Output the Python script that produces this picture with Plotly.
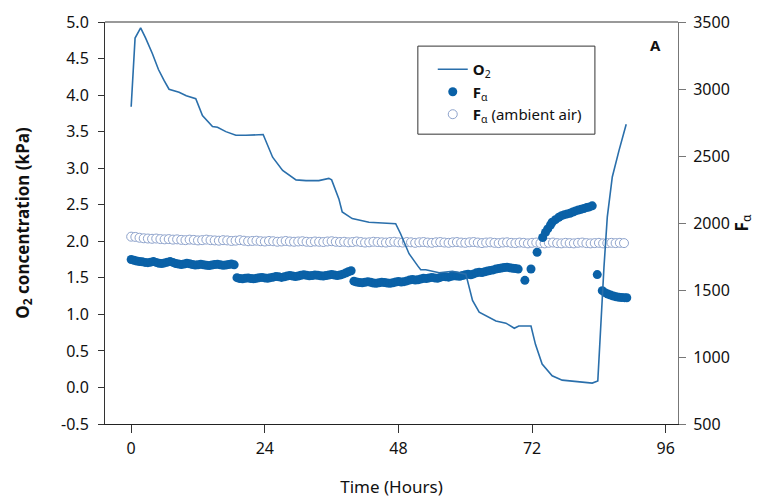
import plotly.graph_objects as go

# ---------------- data ----------------
o2_time = [0.0, 0.7, 1.7, 2.6, 3.8, 4.9, 5.9, 6.8, 8.6, 9.9,
           11.6, 12.8, 14.6, 15.5, 17.0, 18.8, 20.6, 22.4, 23.7, 25.4,
           27.2, 29.6, 31.4, 33.7, 35.5, 36.0, 37.3, 37.9, 39.7, 42.7,
           46.6, 47.5, 48.4, 49.9, 51.4, 52.0, 52.9, 55.3, 57.7, 60.1,
           61.3, 62.5, 65.5, 67.3, 68.8, 69.6, 71.8, 72.6, 73.8, 75.6,
           77.4, 80.4, 82.8, 83.8, 84.3, 84.9, 85.5, 86.1, 86.4, 87.6,
           88.9]
o2_kpa = [3.84, 4.78, 4.92, 4.78, 4.57, 4.35, 4.20, 4.08, 4.04, 3.99,
          3.95, 3.72, 3.57, 3.56, 3.50, 3.45, 3.45, 3.45, 3.46, 3.15,
          2.97, 2.84, 2.83, 2.83, 2.86, 2.84, 2.58, 2.40, 2.31, 2.26,
          2.25, 2.24, 2.10, 1.83, 1.67, 1.61, 1.61, 1.57, 1.59, 1.55,
          1.19, 1.03, 0.91, 0.88, 0.81, 0.84, 0.84, 0.59, 0.32, 0.16,
          0.10, 0.08, 0.06, 0.09, 0.87, 1.64, 2.33, 2.75, 2.88, 3.24,
          3.60]

fa_time = [0.0, 0.5, 1.0, 1.5, 2.0, 2.5, 3.0, 3.5, 4.0, 4.5,
           5.0, 5.5, 6.0, 6.5, 7.0, 7.5, 8.0, 8.5, 9.0, 9.5,
           10.0, 10.5, 11.0, 11.5, 12.0, 12.5, 13.0, 13.5, 14.0, 14.5,
           15.0, 15.5, 16.0, 16.5, 17.0, 17.5, 18.0, 18.5,
           19.0, 19.5, 20.0, 20.5, 21.0, 21.5, 22.0, 22.5, 23.0, 23.5,
           24.0, 24.5, 25.0, 25.5, 26.0, 26.5, 27.0, 27.5, 28.0, 28.5,
           29.0, 29.5, 30.0, 30.5, 31.0, 31.5, 32.0, 32.5, 33.0, 33.5,
           34.0, 34.5, 35.0, 35.5, 36.0, 36.5, 37.0, 37.5, 38.0, 38.5,
           39.0, 39.5,
           40.0, 40.5, 41.0, 41.5, 42.0, 42.5, 43.0, 43.5, 44.0, 44.5,
           45.0, 45.5, 46.0, 46.5, 47.0, 47.5, 48.0, 48.5, 49.0, 49.5,
           50.0, 50.5, 51.0, 51.5, 52.0, 52.5, 53.0, 53.5, 54.0, 54.5,
           55.0, 55.5, 56.0, 56.5, 57.0, 57.5, 58.0, 58.5, 59.0, 59.5,
           60.0, 60.5, 61.0, 61.5, 62.0, 62.5, 63.0, 63.5, 64.0, 64.5,
           65.0, 65.5, 66.0, 66.5, 67.0, 67.5, 68.0, 68.5, 69.0, 69.5,
           70.7, 71.8, 72.9, 73.9, 74.4, 74.8, 75.3, 75.6, 76.2, 76.8,
           77.3, 77.8, 78.3, 78.8, 79.3, 79.8, 80.3, 80.8, 81.3, 81.8,
           82.3, 82.8, 83.7, 84.6, 85.1, 85.6, 86.1, 86.6, 87.1, 87.6,
           88.1, 88.6, 89.0]
fa_value = [1728, 1722, 1716, 1712, 1710, 1706, 1704, 1708, 1712, 1706,
            1700, 1698, 1702, 1708, 1712, 1706, 1698, 1694, 1690, 1694,
            1700, 1696, 1690, 1686, 1688, 1692, 1688, 1684, 1682, 1686,
            1690, 1692, 1688, 1684, 1686, 1690, 1694, 1688,
            1592, 1586, 1584, 1588, 1590, 1586, 1584, 1588, 1592, 1594,
            1590, 1588, 1592, 1596, 1600, 1598, 1594, 1598, 1604, 1608,
            1604, 1600, 1604, 1610, 1614, 1610, 1606, 1608, 1612, 1610,
            1606, 1604, 1608, 1612, 1616, 1612, 1608, 1612, 1618, 1626,
            1636, 1644,
            1566, 1560, 1556, 1554, 1558, 1562, 1558, 1552, 1550, 1554,
            1558, 1556, 1552, 1550, 1554, 1560, 1564, 1560, 1562, 1568,
            1574, 1578, 1574, 1576, 1582, 1588, 1586, 1590, 1594, 1590,
            1588, 1594, 1600, 1598, 1596, 1602, 1606, 1604, 1602, 1608,
            1614, 1618, 1614, 1620, 1628, 1632, 1630, 1636, 1642, 1646,
            1650, 1656, 1660, 1664, 1668, 1670, 1666, 1662, 1660, 1656,
            1572, 1657, 1782, 1892, 1930, 1956, 1985, 2006, 2025, 2043,
            2055, 2062, 2068, 2072, 2082, 2090, 2097, 2102, 2108, 2115,
            2120, 2128, 1615, 1495, 1480, 1470, 1462, 1455, 1450, 1446,
            1444, 1443, 1442]

amb_time = [0.0, 0.75, 1.5, 2.25, 3.0, 3.75, 4.5, 5.25, 6.0, 6.75,
            7.5, 8.25, 9.0, 9.75, 10.5, 11.25, 12.0, 12.75, 13.5, 14.25,
            15.0, 15.75, 16.5, 17.25, 18.0, 18.75, 19.5, 20.25, 21.0, 21.75,
            22.5, 23.25, 24.0, 24.75, 25.5, 26.25, 27.0, 27.75, 28.5, 29.25,
            30.0, 30.75, 31.5, 32.25, 33.0, 33.75, 34.5, 35.25, 36.0, 36.75,
            37.5, 38.25, 39.0, 39.75, 40.5, 41.25, 42.0, 42.75, 43.5, 44.25,
            45.0, 45.75, 46.5, 47.25, 48.0, 48.75, 49.5, 50.25, 51.0, 51.75,
            52.5, 53.25, 54.0, 54.75, 55.5, 56.25, 57.0, 57.75, 58.5, 59.25,
            60.0, 60.75, 61.5, 62.25, 63.0, 63.75, 64.5, 65.25, 66.0, 66.75,
            67.5, 68.25, 69.0, 69.75, 70.5, 71.25, 72.0, 72.75, 73.5, 74.25,
            75.0, 75.75, 76.5, 77.25, 78.0, 78.75, 79.5, 80.25, 81.0, 81.75,
            82.5, 83.25, 84.0, 84.75, 85.5, 86.25, 87.0, 87.75, 88.5]
amb_value = [1898, 1896, 1890, 1886, 1884, 1882, 1884, 1880, 1878, 1880,
             1876, 1878, 1874, 1872, 1876, 1874, 1870, 1872, 1876, 1872,
             1870, 1868, 1872, 1870, 1866, 1868, 1872, 1868, 1864, 1866,
             1868, 1864, 1862, 1866, 1864, 1860, 1862, 1866, 1862, 1860,
             1862, 1864, 1860, 1858, 1862, 1860, 1858, 1862, 1864, 1860,
             1858, 1860, 1856, 1858, 1862, 1858, 1854, 1856, 1860, 1858,
             1856, 1854, 1858, 1860, 1856, 1854, 1858, 1856, 1852, 1856,
             1858, 1854, 1852, 1856, 1858, 1854, 1852, 1856, 1858, 1854,
             1852, 1856, 1858, 1854, 1850, 1854, 1856, 1852, 1850, 1854,
             1856, 1852, 1850, 1854, 1852, 1848, 1852, 1854, 1850, 1848,
             1852, 1854, 1850, 1848, 1852, 1850, 1848, 1852, 1854, 1850,
             1848, 1850, 1852, 1848, 1850, 1852, 1850, 1852, 1850]

x_ticks = [0, 24, 48, 72, 96]
left_ticks = [-0.5, 0.0, 0.5, 1.0, 1.5, 2.0, 2.5, 3.0, 3.5, 4.0, 4.5, 5.0]
left_tick_text = ["-0.5", "0.0", "0.5", "1.0", "1.5", "2.0", "2.5", "3.0",
                  "3.5", "4.0", "4.5", "5.0"]
right_ticks = [500, 1000, 1500, 2000, 2500, 3000, 3500]

FONT = "Noto Sans"
LINE_C = "#2a6fab"
DOT_C = "#0a61a7"
OPEN_C = "#8ea3cc"

fig = go.Figure()
fig.add_trace(go.Scatter(
    x=amb_time, y=amb_value, mode="markers", yaxis="y",
    name="<b>F</b><sub>α</sub> (ambient air)", legendrank=3,
    marker=dict(symbol="circle", size=9, color="white",
                line=dict(color=OPEN_C, width=1))))
fig.add_trace(go.Scatter(
    x=fa_time, y=fa_value, mode="markers", yaxis="y",
    name="<b>F</b><sub>α</sub>", legendrank=2,
    marker=dict(symbol="circle", size=9, color=DOT_C, line=dict(width=0))))
fig.add_trace(go.Scatter(
    x=o2_time, y=o2_kpa, mode="lines", yaxis="y2",
    name="<b>O</b><sub>2</sub>", legendrank=1,
    line=dict(color=LINE_C, width=1.6)))

fig.update_layout(
    width=763, height=490,
    margin=dict(l=97, r=93, t=14, b=74),
    paper_bgcolor="white", plot_bgcolor="white",
    font=dict(family=FONT, size=15, color="#111"),
    showlegend=True,
    legend=dict(x=0.572, y=0.923, xanchor="left", yanchor="top",
                borderwidth=0, bgcolor="rgba(0,0,0,0)",
                font=dict(size=15), tracegroupgap=0, itemwidth=30),
    xaxis=dict(range=[-4.7, 98.2], tickvals=x_ticks, ticks="outside",
               ticklen=8, tickcolor="#333", showline=True, linecolor="#222",
               linewidth=1, showgrid=False, zeroline=False, automargin=False,
               tickfont=dict(size=16), ticklabelstandoff=2,
               title=dict(text="Time (Hours)", font=dict(size=17), standoff=29)),
    yaxis=dict(range=[500, 3500], tickvals=right_ticks, side="right",
               ticks="outside", ticklen=7, tickcolor="#777", showline=True,
               linecolor="#777", linewidth=1, showgrid=False, zeroline=False,
               automargin=False,
               tickfont=dict(size=16), ticklabelstandoff=4,
               title=dict(text="<b>F</b><sub>α</sub>", font=dict(size=17), standoff=0)),
    yaxis2=dict(range=[-0.5, 5.0], tickvals=left_ticks, ticktext=left_tick_text,
                overlaying="y", side="left", ticks="outside", ticklen=6,
                tickcolor="#333", showline=True, linecolor="#333", linewidth=1,
                showgrid=False, zeroline=False, tickfont=dict(size=16),
                ticklabelstandoff=6, automargin=False,
                title=dict(text="<b>O<sub>2</sub> concentration (kPa)</b>",
                           font=dict(size=17), standoff=27)),
    shapes=[dict(type="line", xref="paper", yref="paper", x0=0, x1=1, y0=1, y1=1,
                 line=dict(color="#777", width=1.5)),
            dict(type="rect", xref="paper", yref="paper", x0=0.546, x1=0.855,
                 y0=0.721, y1=0.940, layer="above", fillcolor="white",
                 line=dict(color="#333", width=1))],
    annotations=[dict(text="<b>A</b>", xref="paper", yref="paper", x=0.96, y=0.943,
                      xanchor="center", yanchor="middle",
                      showarrow=False, font=dict(size=15))],
)

fig.write_html("out.html")
